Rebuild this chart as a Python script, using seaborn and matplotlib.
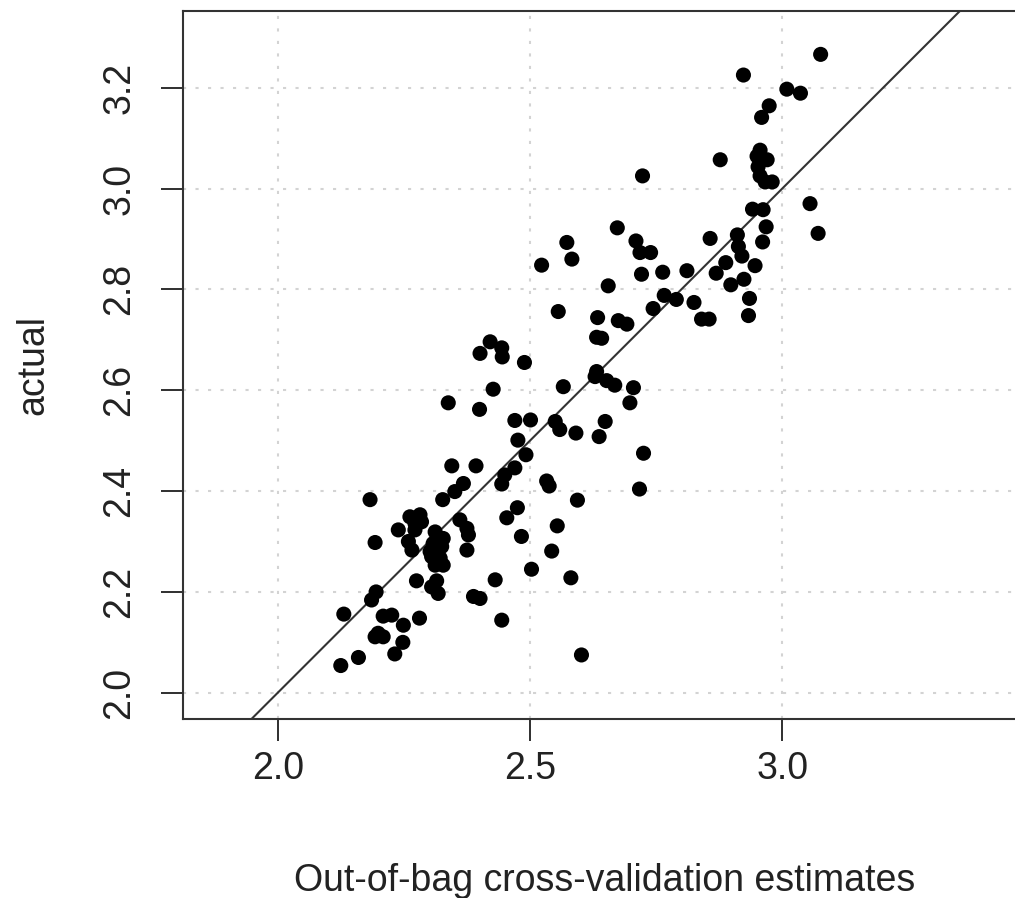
import matplotlib
matplotlib.use("Agg")
import matplotlib.pyplot as plt
import seaborn as sns
import pandas as pd

# Out-of-bag cross-validation estimates (x) vs actual values (y)
oob_estimate = [
    2.421, 2.401, 2.444, 2.445, 2.489, 2.427, 2.338, 2.400, 2.470, 2.476,
    2.345, 2.393, 2.470, 2.450, 2.444, 2.368, 2.351, 2.327, 2.183, 2.454,
    2.475, 2.483, 2.262, 2.282, 2.272, 2.285, 2.272, 2.239, 2.259, 2.266,
    2.361, 2.375, 2.378, 2.375, 2.193, 2.312, 2.328, 2.308, 2.325, 2.305,
    2.322, 2.312, 2.328, 2.302, 2.275, 2.315, 2.305, 2.318, 2.431, 2.388,
    2.401, 2.195, 2.186, 2.131, 2.209, 2.226, 2.249, 2.281, 2.199, 2.193,
    2.209, 2.248, 2.444, 2.232, 2.160, 2.125,
    2.673, 2.573, 2.583, 2.523, 2.710, 2.718, 2.739, 2.721, 2.763, 2.655,
    2.766, 2.790, 2.744, 2.556, 2.634, 2.675, 2.692, 2.632, 2.642, 2.632,
    2.629, 2.652, 2.668, 2.705, 2.698, 2.566, 2.501, 2.550, 2.559, 2.591,
    2.649, 2.637, 2.492, 2.725, 2.533, 2.538, 2.717, 2.594, 2.554, 2.543,
    2.503, 2.581, 2.602, 2.723,
    3.076, 2.923, 3.009, 3.036, 2.974, 2.959, 2.877, 2.956, 2.950, 2.970,
    2.952, 2.956, 2.966, 2.980, 3.055, 2.941, 2.962, 2.968, 3.071, 2.857,
    2.961, 2.911, 2.913, 2.920, 2.888, 2.946, 2.869, 2.811, 2.898, 2.924,
    2.935, 2.825, 2.840, 2.855, 2.933,
]
actual = [
    2.696, 2.673, 2.684, 2.666, 2.655, 2.602, 2.575, 2.562, 2.540, 2.501,
    2.450, 2.450, 2.446, 2.432, 2.414, 2.415, 2.399, 2.383, 2.383, 2.347,
    2.367, 2.310, 2.349, 2.353, 2.336, 2.339, 2.323, 2.323, 2.300, 2.283,
    2.343, 2.326, 2.313, 2.283, 2.298, 2.319, 2.306, 2.296, 2.290, 2.270,
    2.267, 2.253, 2.253, 2.280, 2.222, 2.222, 2.210, 2.197, 2.224, 2.191,
    2.187, 2.200, 2.184, 2.156, 2.152, 2.154, 2.134, 2.148, 2.118, 2.111,
    2.111, 2.100, 2.144, 2.077, 2.070, 2.054,
    2.922, 2.893, 2.860, 2.848, 2.896, 2.873, 2.873, 2.830, 2.834, 2.807,
    2.788, 2.780, 2.762, 2.756, 2.744, 2.738, 2.731, 2.705, 2.703, 2.637,
    2.627, 2.619, 2.610, 2.605, 2.575, 2.607, 2.541, 2.538, 2.522, 2.515,
    2.538, 2.508, 2.472, 2.475, 2.420, 2.410, 2.404, 2.382, 2.331, 2.281,
    2.245, 2.228, 2.075, 3.025,
    3.266, 3.225, 3.197, 3.189, 3.164, 3.141, 3.057, 3.076, 3.064, 3.057,
    3.043, 3.025, 3.013, 3.013, 2.970, 2.959, 2.958, 2.924, 2.911, 2.901,
    2.894, 2.908, 2.885, 2.866, 2.853, 2.847, 2.832, 2.837, 2.809, 2.820,
    2.782, 2.774, 2.741, 2.741, 2.748,
]
x_ticks = [2.0, 2.5, 3.0]
y_ticks = [2.0, 2.2, 2.4, 2.6, 2.8, 3.0, 3.2]
x_label = "Out-of-bag cross-validation estimates"
y_label = "actual"

df = pd.DataFrame({"oob": oob_estimate, "actual": actual})

sns.set_style("white")
plt.rcParams["font.family"] = ["Liberation Sans", "DejaVu Sans"]

fig = plt.figure(figsize=(10.15, 8.98), dpi=100)
ax_w_px = 1026 - 183.3
ax_h_px = 708
ax = fig.add_axes([183.3 / 1015, 179 / 898, ax_w_px / 1015, ax_h_px / 898])

# dotted light-grey grid at the tick positions (R's grid())
for v in x_ticks:
    ax.axvline(v, color="#d3d3d3", lw=1.5, ls=(0, (1.5, 4.5)), zorder=0)
for v in y_ticks:
    ax.axhline(v, color="#d3d3d3", lw=1.5, ls=(0, (1.5, 4.5)), zorder=0)

sns.scatterplot(data=df, x="oob", y="actual", ax=ax, color="black",
                s=118, linewidth=0, edgecolor="none", zorder=3)
ax.axline((2.0, 2.0), slope=1, color="#333333", lw=1.5, zorder=2)

ax.set_xlim(1.8129, 3.483)
ax.set_ylim(1.948, 3.352)
ax.set_xticks(x_ticks)
ax.set_yticks(y_ticks)
ax.set_xticklabels([f"{t:.1f}" for t in x_ticks])
ax.set_yticklabels([f"{t:.1f}" for t in y_ticks], rotation=90, va="center")

ax.tick_params(axis="both", which="major", length=16, width=1.3,
               color="#333333", labelsize=27, labelcolor="#222222",
               bottom=True, left=True, direction="out")
ax.tick_params(axis="x", pad=7)
ax.tick_params(axis="y", pad=17)

# outward tick segments drawn as plain line segments as well
tick_len_px = 16 / 72 * 100
ax.vlines(x_ticks, 0, -tick_len_px / ax_h_px, transform=ax.get_xaxis_transform(),
          colors="#333333", lw=1.3, clip_on=False, zorder=4)
ax.hlines(y_ticks, 0, -tick_len_px / ax_w_px, transform=ax.get_yaxis_transform(),
          colors="#333333", lw=1.3, clip_on=False, zorder=4)

for side in ["left", "top", "bottom"]:
    ax.spines[side].set_color("#333333")
    ax.spines[side].set_linewidth(1.5)
ax.spines["right"].set_visible(False)

ax.set_xlabel(x_label, fontsize=27, color="#222222", labelpad=55)
ax.set_ylabel(y_label, fontsize=27, color="#222222", labelpad=36)

fig.savefig("out.png", dpi=100)
